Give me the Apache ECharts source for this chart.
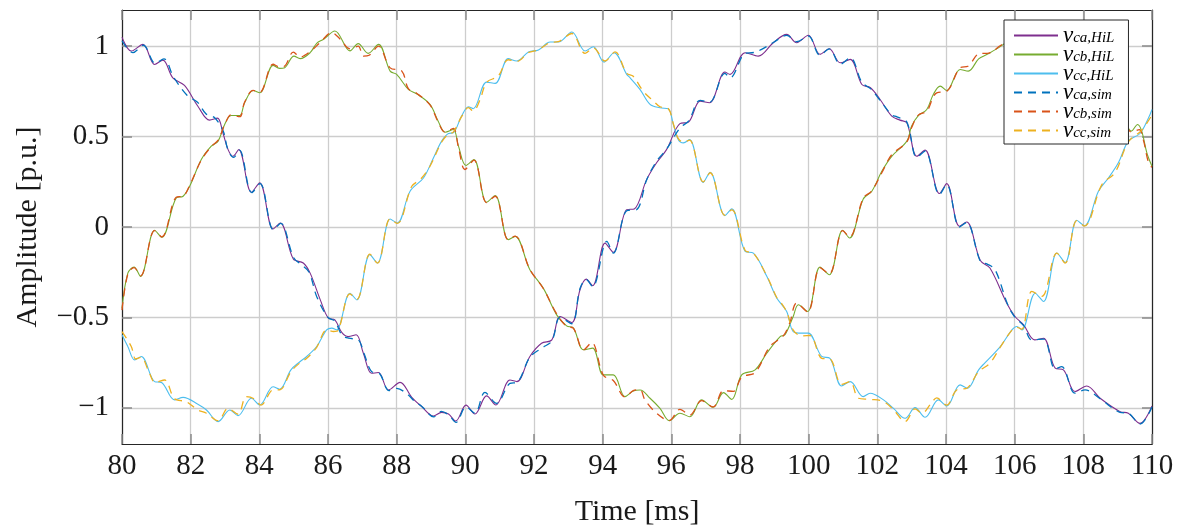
<!DOCTYPE html>
<html>
<head>
<meta charset="utf-8">
<title>Line voltages: HiL vs simulation</title>
<script src="https://cdn.jsdelivr.net/npm/echarts@6/dist/echarts.min.js"></script>
<style>
  html, body { margin: 0; padding: 0; background: #ffffff; }
  #chart { width: 1182px; height: 526px; }
</style>
</head>
<body>
<div id="chart"></div>
<script>
// Time axis (ms) and amplitude tick values
const xTicks = [80, 82, 84, 86, 88, 90, 92, 94, 96, 98, 100, 102, 104, 106, 108, 110];
const yTicks = [-1, -0.5, 0, 0.5, 1];

// Series names: [main symbol, subscript]
const seriesNames = [
  ['v', 'ca,HiL'], ['v', 'cb,HiL'], ['v', 'cc,HiL'],
  ['v', 'ca,sim'], ['v', 'cb,sim'], ['v', 'cc,sim']
];

// v_ca measured on the HiL setup: [time ms, amplitude p.u.]
const vcaHiL = [
  [80.00, 1.05], [80.27, 0.973], [80.61, 1.01], [80.95, 0.899], [81.19, 0.923], [81.48, 0.825],
  [81.82, 0.783], [82.21, 0.668], [82.55, 0.591], [82.78, 0.602], [82.94, 0.52], [83.09, 0.428],
  [83.23, 0.391], [83.40, 0.428], [83.77, 0.192], [84.01, 0.244], [84.40, -0.011], [84.61, 0.022],
  [84.99, -0.177], [85.28, -0.199], [85.48, -0.255], [85.77, -0.40], [86.01, -0.504], [86.20, -0.513],
  [86.40, -0.583], [86.59, -0.606], [86.82, -0.596], [87.03, -0.698], [87.27, -0.809], [87.47, -0.805],
  [87.76, -0.901], [88.10, -0.859], [88.44, -0.942], [88.73, -0.993], [89.07, -1.045], [89.31, -1.025],
  [89.51, -1.034], [89.72, -1.073], [90.02, -0.985], [90.28, -1.034], [90.62, -0.934], [90.89, -0.984],
  [91.30, -0.846], [91.50, -0.855], [91.88, -0.716], [92.22, -0.643], [92.52, -0.624], [92.76, -0.495],
  [93.10, -0.528], [93.34, -0.347], [93.52, -0.288], [93.71, -0.325], [94.07, -0.089], [94.31, -0.14],
  [94.70, 0.096], [94.92, 0.10], [95.28, 0.262], [95.57, 0.355], [95.86, 0.428], [96.25, 0.572],
  [96.50, 0.58], [96.84, 0.696], [97.11, 0.687], [97.56, 0.857], [97.71, 0.844], [98.15, 0.964],
  [98.53, 0.945], [98.97, 1.019], [99.36, 1.065], [99.65, 1.019], [99.99, 1.06], [100.33, 0.955],
  [100.60, 0.986], [100.92, 0.908], [101.21, 0.927], [101.55, 0.788], [101.80, 0.77], [102.08, 0.705],
  [102.42, 0.613], [102.66, 0.591], [102.86, 0.576], [103.15, 0.391], [103.39, 0.425], [103.81, 0.185],
  [104.02, 0.24], [104.39, 0.004], [104.60, 0.028], [105.00, -0.185], [105.28, -0.227], [105.77, -0.421],
  [106.01, -0.495], [106.26, -0.541], [106.58, -0.624], [106.84, -0.615], [107.18, -0.781], [107.42, -0.79],
  [107.76, -0.91], [108.10, -0.879], [108.49, -0.947], [109.07, -1.021], [109.31, -1.03], [109.65, -1.086],
  [110.00, -0.99]
];

// v_cb measured on the HiL setup
const vcbHiL = [
  [80.00, -0.45], [80.17, -0.255], [80.35, -0.222], [80.54, -0.273], [80.95, -0.018], [81.16, -0.057],
  [81.58, 0.161], [81.78, 0.17], [81.97, 0.225], [82.31, 0.373], [82.60, 0.447], [82.80, 0.475],
  [82.99, 0.567], [83.18, 0.617], [83.43, 0.617], [83.57, 0.687], [83.82, 0.755], [84.01, 0.742],
  [84.40, 0.894], [84.59, 0.877], [84.74, 0.881], [85.01, 0.945], [85.19, 0.931], [85.48, 0.964],
  [85.67, 1.016], [85.87, 1.038], [86.20, 1.084], [86.64, 0.974], [86.88, 1.014], [87.17, 0.96],
  [87.47, 1.01], [87.81, 0.862], [88.00, 0.844], [88.34, 0.761], [88.58, 0.737], [88.97, 0.678],
  [89.21, 0.585], [89.41, 0.524], [89.65, 0.539], [89.80, 0.447], [90.02, 0.34], [90.25, 0.373],
  [90.62, 0.137], [90.87, 0.174], [91.25, -0.07], [91.45, -0.052], [91.88, -0.236], [92.27, -0.338],
  [92.66, -0.486], [92.95, -0.547], [93.15, -0.559], [93.44, -0.679], [93.71, -0.67], [94.02, -0.818],
  [94.31, -0.818], [94.65, -0.938], [94.89, -0.907], [95.09, -0.901], [95.38, -0.947], [95.67, -1.003],
  [95.94, -1.071], [96.25, -1.03], [96.54, -1.049], [96.88, -0.956], [97.22, -0.997], [97.52, -0.916],
  [97.76, -0.953], [98.05, -0.818], [98.44, -0.79], [98.78, -0.698], [99.17, -0.606], [99.31, -0.596],
  [99.55, -0.495], [99.70, -0.43], [99.97, -0.467], [100.33, -0.222], [100.60, -0.264], [100.99, -0.018],
  [101.19, -0.061], [101.59, 0.155], [101.84, 0.198], [102.13, 0.308], [102.42, 0.391], [102.86, 0.475],
  [103.00, 0.558], [103.20, 0.617], [103.44, 0.65], [103.63, 0.733], [103.83, 0.779], [104.02, 0.755],
  [104.41, 0.871], [104.65, 0.862], [104.95, 0.93], [105.20, 0.955], [105.60, 1.0], [105.87, 1.04],
  [106.20, 1.08], [106.64, 0.974], [106.88, 1.014], [107.17, 0.96], [107.47, 1.0], [107.81, 0.862],
  [108.00, 0.844], [108.34, 0.761], [108.58, 0.737], [108.97, 0.678], [109.21, 0.585], [109.40, 0.53],
  [109.58, 0.567], [109.70, 0.53], [109.85, 0.41], [110.00, 0.336]
];

// v_cc measured on the HiL setup
const vccHiL = [
  [80.00, -0.596], [80.17, -0.661], [80.37, -0.735], [80.56, -0.716], [80.95, -0.855], [81.15, -0.86],
  [81.53, -0.956], [81.78, -0.942], [82.21, -0.98], [82.46, -1.012], [82.80, -1.076], [83.14, -1.012],
  [83.38, -1.043], [83.77, -0.947], [84.01, -0.984], [84.40, -0.883], [84.59, -0.897], [84.92, -0.79],
  [85.19, -0.744], [85.38, -0.716], [85.67, -0.661], [85.96, -0.569], [86.11, -0.559], [86.25, -0.569],
  [86.64, -0.366], [86.84, -0.403], [87.22, -0.153], [87.44, -0.199], [87.81, 0.044], [88.02, 0.022],
  [88.39, 0.198], [88.78, 0.271], [89.07, 0.382], [89.31, 0.475], [89.51, 0.517], [89.65, 0.521],
  [89.89, 0.613], [90.09, 0.665], [90.23, 0.654], [90.62, 0.801], [90.87, 0.794], [91.25, 0.931],
  [91.50, 0.918], [91.84, 0.968], [92.13, 0.979], [92.47, 1.023], [92.71, 1.023], [93.10, 1.078],
  [93.49, 0.973], [93.73, 0.997], [94.04, 0.912], [94.33, 0.964], [94.70, 0.844], [94.80, 0.825],
  [95.09, 0.76], [95.38, 0.678], [95.67, 0.659], [95.91, 0.654], [96.06, 0.567], [96.20, 0.484],
  [96.35, 0.465], [96.53, 0.484], [96.93, 0.247], [97.13, 0.303], [97.56, 0.063], [97.76, 0.10],
  [98.15, -0.135], [98.39, -0.144], [98.78, -0.273], [99.07, -0.393], [99.36, -0.467], [99.55, -0.578],
  [99.80, -0.587], [99.99, -0.587], [100.38, -0.716], [100.62, -0.726], [100.96, -0.879], [101.21, -0.855],
  [101.59, -0.938], [101.79, -0.919], [102.18, -0.956], [102.47, -1.003], [102.81, -1.058], [103.10, -0.999],
  [103.39, -1.052], [103.78, -0.956], [104.02, -0.99], [104.41, -0.873], [104.62, -0.892], [104.95, -0.79],
  [105.14, -0.75], [105.58, -0.661], [105.92, -0.569], [106.06, -0.55], [106.21, -0.569], [106.60, -0.366],
  [106.84, -0.412], [107.23, -0.144], [107.47, -0.196], [107.81, 0.037], [108.03, 0.007], [108.44, 0.198],
  [108.73, 0.271], [109.02, 0.355], [109.31, 0.475], [109.65, 0.517], [109.90, 0.604], [110.00, 0.65]
];

// v_ca from the simulation model
const vcaSim = [
  [80.00, 1.03], [80.32, 0.964], [80.62, 1.005], [80.97, 0.905], [81.22, 0.93], [81.50, 0.83],
  [81.90, 0.727], [82.20, 0.69], [82.45, 0.625], [82.70, 0.604], [82.95, 0.53], [83.08, 0.43],
  [83.25, 0.385], [83.42, 0.425], [83.78, 0.19], [84.02, 0.24], [84.41, -0.015], [84.62, 0.02],
  [85.00, -0.17], [85.23, -0.209], [85.45, -0.25], [85.67, -0.384], [86.00, -0.50], [86.20, -0.52],
  [86.40, -0.596], [86.60, -0.615], [86.88, -0.624], [87.05, -0.70], [87.27, -0.80], [87.50, -0.81],
  [87.78, -0.905], [88.00, -0.892], [88.34, -0.929], [88.50, -0.96], [88.75, -0.995], [89.08, -1.05],
  [89.30, -1.02], [89.52, -1.04], [89.73, -1.08], [90.02, -0.995], [90.28, -1.03], [90.57, -0.915],
  [90.91, -0.975], [91.30, -0.865], [91.50, -0.86], [91.88, -0.72], [92.22, -0.67], [92.52, -0.63],
  [92.76, -0.50], [93.10, -0.535], [93.34, -0.34], [93.52, -0.29], [93.71, -0.33], [94.12, -0.08],
  [94.31, -0.145], [94.70, 0.09], [94.99, 0.096], [95.28, 0.26], [95.57, 0.364], [95.86, 0.43],
  [96.25, 0.548], [96.50, 0.585], [96.84, 0.70], [97.11, 0.69], [97.56, 0.85], [97.71, 0.825],
  [98.15, 0.96], [98.40, 0.965], [98.63, 0.982], [98.97, 1.02], [99.36, 1.06], [99.65, 1.025],
  [99.99, 1.055], [100.33, 0.95], [100.60, 0.985], [100.92, 0.90], [101.21, 0.936], [101.55, 0.80],
  [101.80, 0.765], [102.08, 0.70], [102.42, 0.62], [102.57, 0.609], [102.86, 0.58], [103.15, 0.385],
  [103.39, 0.42], [103.81, 0.18], [104.02, 0.235], [104.39, 0.0], [104.60, 0.025], [105.00, -0.19],
  [105.20, -0.205], [105.43, -0.236], [105.80, -0.43], [106.01, -0.50], [106.26, -0.545], [106.50, -0.624],
  [106.84, -0.62], [107.18, -0.785], [107.37, -0.772], [107.76, -0.919], [108.05, -0.901], [108.49, -0.95],
  [109.07, -1.025], [109.31, -1.03], [109.65, -1.09], [110.00, -0.995]
];

// v_cb from the simulation model
const vcbSim = [
  [80.00, -0.46], [80.17, -0.26], [80.35, -0.225], [80.54, -0.27], [80.95, -0.02], [81.16, -0.055],
  [81.58, 0.165], [81.78, 0.17], [81.97, 0.23], [82.31, 0.37], [82.60, 0.445], [82.80, 0.48],
  [82.99, 0.565], [83.18, 0.62], [83.43, 0.61], [83.57, 0.69], [83.82, 0.755], [84.01, 0.745],
  [84.40, 0.90], [84.59, 0.885], [84.74, 0.89], [84.99, 0.967], [85.19, 0.94], [85.48, 0.97],
  [85.77, 1.02], [86.11, 1.075], [86.35, 1.04], [86.64, 0.985], [86.88, 1.0], [87.03, 0.945],
  [87.20, 0.95], [87.47, 1.0], [87.81, 0.88], [88.15, 0.862], [88.34, 0.765], [88.58, 0.74],
  [88.97, 0.675], [89.21, 0.58], [89.41, 0.525], [89.65, 0.545], [89.80, 0.44], [89.99, 0.318],
  [90.25, 0.37], [90.62, 0.135], [90.87, 0.17], [91.25, -0.07], [91.45, -0.05], [91.88, -0.235],
  [92.27, -0.34], [92.66, -0.48], [92.95, -0.55], [93.15, -0.56], [93.44, -0.68], [93.68, -0.639],
  [94.02, -0.82], [94.31, -0.849], [94.65, -0.94], [94.89, -0.905], [95.09, -0.90], [95.23, -0.956],
  [95.57, -1.03], [95.94, -1.07], [96.25, -1.008], [96.54, -1.04], [96.88, -0.96], [97.22, -0.995],
  [97.52, -0.905], [97.81, -0.909], [98.05, -0.83], [98.44, -0.805], [98.87, -0.661], [99.26, -0.602],
  [99.45, -0.53], [99.65, -0.421], [99.97, -0.47], [100.33, -0.225], [100.60, -0.26], [100.99, -0.02],
  [101.19, -0.055], [101.59, 0.16], [101.84, 0.20], [102.13, 0.30], [102.42, 0.40], [102.86, 0.47],
  [103.00, 0.55], [103.20, 0.62], [103.44, 0.64], [103.63, 0.72], [103.73, 0.742], [104.02, 0.75],
  [104.41, 0.88], [104.65, 0.89], [104.99, 0.96], [105.20, 0.96], [105.60, 1.005], [105.87, 1.035],
  [106.20, 1.075], [106.64, 0.98], [106.88, 1.005], [107.17, 0.95], [107.47, 1.0], [107.81, 0.875],
  [108.00, 0.85], [108.34, 0.765], [108.58, 0.74], [108.97, 0.675], [109.21, 0.58], [109.40, 0.525],
  [109.63, 0.539], [109.75, 0.48], [109.90, 0.355], [110.00, 0.33]
];

// v_cc from the simulation model
const vccSim = [
  [80.00, -0.578], [80.27, -0.661], [80.40, -0.73], [80.56, -0.72], [80.76, -0.79], [80.97, -0.86],
  [81.24, -0.846], [81.53, -0.95], [81.87, -0.966], [82.21, -1.012], [82.46, -1.03], [82.80, -1.071],
  [83.09, -1.003], [83.38, -1.035], [83.62, -0.938], [83.85, -0.95], [84.05, -0.985], [84.40, -0.901],
  [84.60, -0.90], [84.92, -0.80], [85.19, -0.75], [85.38, -0.726], [85.67, -0.665], [85.96, -0.57],
  [86.16, -0.578], [86.30, -0.57], [86.64, -0.37], [86.84, -0.40], [87.22, -0.15], [87.44, -0.20],
  [87.81, 0.045], [88.02, 0.02], [88.44, 0.225], [88.70, 0.265], [88.97, 0.336], [89.31, 0.47],
  [89.51, 0.515], [89.65, 0.525], [89.89, 0.61], [90.09, 0.66], [90.23, 0.641], [90.43, 0.705],
  [90.62, 0.80], [90.96, 0.835], [91.25, 0.925], [91.50, 0.915], [91.84, 0.965], [92.13, 0.98],
  [92.47, 1.02], [92.71, 1.025], [93.10, 1.07], [93.49, 0.96], [93.73, 0.99], [94.07, 0.918],
  [94.36, 0.968], [94.70, 0.85], [94.89, 0.834], [95.18, 0.751], [95.48, 0.696], [95.67, 0.665],
  [95.91, 0.655], [96.06, 0.57], [96.20, 0.49], [96.35, 0.47], [96.53, 0.48], [96.93, 0.25],
  [97.13, 0.30], [97.56, 0.065], [97.76, 0.095], [98.15, -0.13], [98.39, -0.145], [98.78, -0.27],
  [99.07, -0.39], [99.17, -0.412], [99.36, -0.47], [99.55, -0.57], [99.80, -0.602], [100.04, -0.60],
  [100.38, -0.726], [100.62, -0.73], [100.96, -0.87], [101.21, -0.855], [101.45, -0.947], [101.79, -0.953],
  [102.18, -0.965], [102.47, -1.01], [102.81, -1.076], [103.10, -1.006], [103.30, -1.03], [103.55, -0.98],
  [103.73, -0.945], [104.02, -0.985], [104.31, -0.901], [104.62, -0.89], [104.95, -0.80], [105.28, -0.753],
  [105.58, -0.665], [105.92, -0.57], [106.06, -0.555], [106.21, -0.565], [106.50, -0.356], [106.79, -0.384],
  [107.23, -0.145], [107.47, -0.20], [107.81, 0.035], [108.03, 0.005], [108.54, 0.234], [108.92, 0.30],
  [109.31, 0.47], [109.70, 0.535], [110.00, 0.62]
];

const seriesData = [vcaHiL, vcbHiL, vccHiL, vcaSim, vcbSim, vccSim];
const seriesColors = ['#7E2F8E', '#77AC30', '#4DBEEE', '#0072BD', '#D95319', '#EDB120'];
const dashed = [false, false, false, true, true, true];

const serifFont = '"Liberation Serif", "DejaVu Serif", serif';
const frameColor = '#262626';
const tickColor = '#8a8a8a';
const gridColor = '#cdcdcd';

const fmtNum = v => String(v).replace('-', '\u2212');

const names = seriesNames.map(n => n[0] + '_' + n[1]);

const chart = echarts.init(document.getElementById('chart'), null, { renderer: 'canvas' });

const option = {
  animation: false,
  backgroundColor: '#ffffff',
  grid: { left: 122, right: 30, top: 10, bottom: 82, containLabel: false, outerBoundsMode: 'none' },
  legend: {
    data: names,
    orient: 'vertical',
    left: 1004,
    top: 20,
    itemWidth: 44,
    itemHeight: 10,
    itemGap: -4,
    itemTextGap: 6,
    padding: [4, 14, 2, 9],
    backgroundColor: '#ffffff',
    borderColor: frameColor,
    borderWidth: 1,
    borderRadius: 0,
    itemStyle: { opacity: 0 },
    formatter: name => {
      const i = names.indexOf(name);
      return '{v|' + seriesNames[i][0] + '}{s|' + seriesNames[i][1] + '}';
    },
    textStyle: {
      lineHeight: 19.5,
      rich: {
        v: { fontFamily: serifFont, fontStyle: 'italic', fontSize: 23, color: '#000', lineHeight: 19.5 },
        s: { fontFamily: serifFont, fontStyle: 'italic', fontSize: 15, color: '#000', lineHeight: 13, verticalAlign: 'bottom' }
      }
    }
  },
  xAxis: [
    {
      type: 'value', min: 80, max: 110, interval: 2, position: 'bottom',
      name: 'Time [ms]', nameLocation: 'middle', nameGap: 53,
      nameTextStyle: { fontFamily: serifFont, fontSize: 30, color: '#1a1a1a' },
      axisLine: { show: true, onZero: false, lineStyle: { color: frameColor, width: 1.2 } },
      axisTick: { show: true, inside: true, length: 10, lineStyle: { color: tickColor, width: 1.5 } },
      axisLabel: { show: true, margin: 8, fontFamily: serifFont, fontSize: 29, color: '#1a1a1a',
                   customValues: xTicks, formatter: fmtNum },
      splitLine: { show: true, lineStyle: { color: gridColor, width: 1.3 } }
    },
    {
      type: 'value', min: 80, max: 110, interval: 2, position: 'top',
      axisLine: { show: true, onZero: false, lineStyle: { color: frameColor, width: 1.2 } },
      axisTick: { show: true, inside: true, length: 10, lineStyle: { color: tickColor, width: 1.5 } },
      axisLabel: { show: false },
      splitLine: { show: false }
    }
  ],
  yAxis: [
    {
      type: 'value', min: -1.2, max: 1.2, position: 'left',
      name: 'Amplitude [p.u.]', nameLocation: 'middle', nameGap: 79, nameRotate: 90,
      nameTextStyle: { fontFamily: serifFont, fontSize: 30, color: '#1a1a1a' },
      axisLine: { show: true, onZero: false, lineStyle: { color: frameColor, width: 1.2 } },
      axisTick: { show: true, inside: true, length: 10, customValues: yTicks, lineStyle: { color: tickColor, width: 1.5 } },
      axisLabel: { show: true, margin: 13, fontFamily: serifFont, fontSize: 29, color: '#1a1a1a',
                   customValues: yTicks, formatter: fmtNum },
      splitLine: { show: true, lineStyle: { color: gridColor, width: 1.3 } }
    },
    {
      type: 'value', min: -1.2, max: 1.2, position: 'right',
      axisLine: { show: true, onZero: false, lineStyle: { color: frameColor, width: 1.2 } },
      axisTick: { show: true, inside: true, length: 10, customValues: yTicks, lineStyle: { color: tickColor, width: 1.5 } },
      axisLabel: { show: false },
      splitLine: { show: false }
    }
  ],
  series: seriesData.map((data, i) => ({
    name: names[i],
    type: 'line',
    xAxisIndex: 0,
    yAxisIndex: 0,
    data: data,
    smooth: 0.35,
    symbol: 'none',
    showSymbol: false,
    clip: true,
    z: dashed[i] ? 3 : 2,
    color: seriesColors[i],
    lineStyle: {
      color: seriesColors[i],
      width: dashed[i] ? 1.3 : 1.1,
      type: dashed[i] ? [8, 6] : 'solid'
    },
    emphasis: { disabled: true }
  }))
};

chart.setOption(option);
</script>
</body>
</html>
